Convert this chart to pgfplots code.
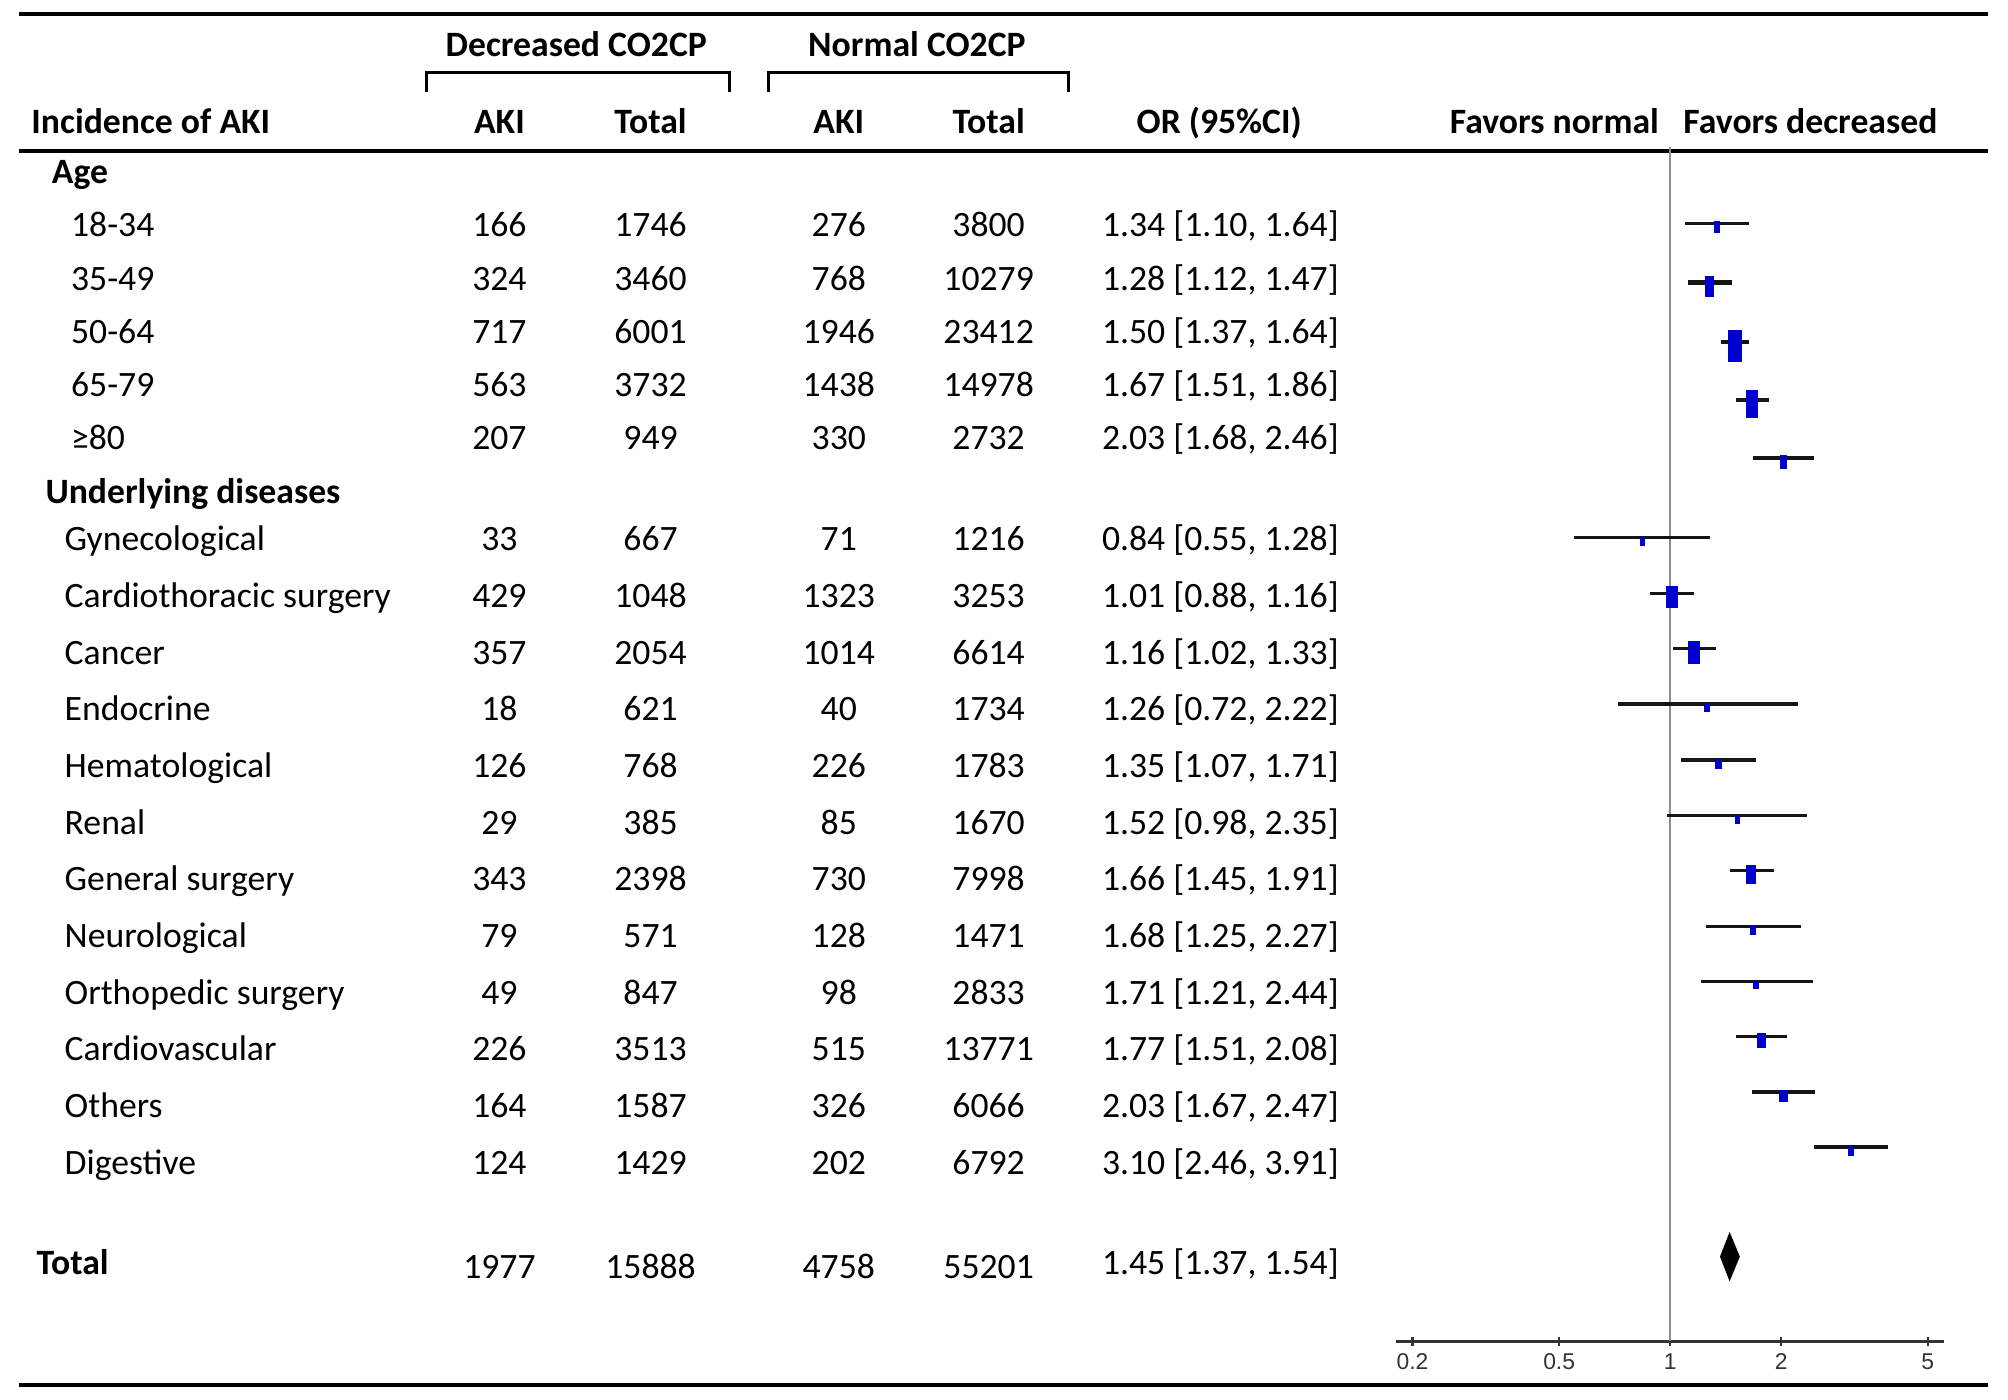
\documentclass[border=0pt]{standalone}
\usepackage{pgfplots}
\pgfplotsset{compat=1.18}
\usepackage{pgfplotstable}
\usepackage{fontspec}
\setmainfont{Carlito}
\newfontfamily\tickfont{Liberation Sans}
\definecolor{fblue}{RGB}{0,0,205}
\definecolor{ciline}{RGB}{20,20,20}

\pgfdeclareplotmark{fbox}{%
  \pgfpathrectangle{\pgfpoint{-0.575*\mw}{-0.575*\mh-1.1}}{\pgfpoint{1.15*\mw}{1.15*\mh}}%
  \pgfusepathqfill}

% forest data: y position (canvas), odds ratio, marker width/height (pt)
\pgfplotstableread{
y      or    w     h
-174.4 1.34  1.34  2.85
-220.7 1.28  2.28  5.03
-267.1 1.50  3.50  7.77
-312.4 1.67  3.04  7.03
-357.9 2.03  1.51  3.33
-419.9 0.84  1.34  2.19
-463.3 1.01  3.04  5.60
-506.5 1.16  2.93  5.69
-549.7 1.26  1.42  2.08
-593.5 1.35  1.79  2.65
-637.0 1.52  1.22  1.99
-679.9 1.66  2.56  4.55
-723.3 1.68  1.42  2.28
-766.3 1.71  1.51  2.08
-809.5 1.77  2.36  3.78
-852.7 2.03  2.08  3.04
-895.7 3.10  1.51  2.48
}\fdata

\begin{document}
\begin{tikzpicture}[font=\fontsize{10.15}{12}\selectfont]
\begin{scope}[x=0.12806mm, y=-0.12806mm]
\useasboundingbox (0,0) rectangle (1568,1093);
% rules
\draw[line width=1.1pt] (15,11) -- (1552,11);
\draw[line width=1.1pt] (15,118) -- (1552,118);
\draw[line width=1.1pt] (15,1081.5) -- (1552,1081.5);
% brackets
\draw[line width=0.85pt] (333,71.5) -- (333,56.5) -- (569.5,56.5) -- (569.5,71.5);
\draw[line width=0.85pt] (600,71.5) -- (600,56.5) -- (834,56.5) -- (834,71.5);
% header
\node[anchor=base, inner sep=0] at (450,44.5) {\bfseries Decreased CO2CP};
\node[anchor=base, inner sep=0] at (716,44.5) {\bfseries Normal CO2CP};
\node[anchor=base west, inner sep=0] at (24,104.5) {\bfseries Incidence of AKI};
\node[anchor=base, inner sep=0] at (390,104.5) {\bfseries AKI};
\node[anchor=base, inner sep=0] at (508,104.5) {\bfseries Total};
\node[anchor=base, inner sep=0] at (655,104.5) {\bfseries AKI};
\node[anchor=base, inner sep=0] at (772,104.5) {\bfseries Total};
\node[anchor=base, inner sep=0] at (952,104.5) {\bfseries OR (95\%CI)};
\node[anchor=base east, inner sep=0] at (1296,104.5) {\bfseries Favors normal};
\node[anchor=base west, inner sep=0] at (1314,104.5) {\bfseries Favors decreased};
% groups
\node[anchor=base west, inner sep=0] at (40,143.5) {\bfseries Age};
\node[anchor=base west, inner sep=0] at (35,393.5) {\bfseries Underlying diseases};
\foreach \lab/\a/\b/\c/\d/\orv [count=\i from 0] in {
  18-34/166/1746/276/3800/{1.34 [1.10, 1.64]},
  35-49/324/3460/768/10279/{1.28 [1.12, 1.47]},
  50-64/717/6001/1946/23412/{1.50 [1.37, 1.64]},
  65-79/563/3732/1438/14978/{1.67 [1.51, 1.86]},
  ≥80/207/949/330/2732/{2.03 [1.68, 2.46]}}{
  \pgfmathsetmacro\yy{176.5+41.5*\i+8.5}
  \node[anchor=base west, inner sep=0] at (55,\yy) {\lab};
  \node[anchor=base, inner sep=0] at (390,\yy) {\a};
  \node[anchor=base, inner sep=0] at (508,\yy) {\b};
  \node[anchor=base, inner sep=0] at (655,\yy) {\c};
  \node[anchor=base, inner sep=0] at (772,\yy) {\d};
  \node[anchor=base west, inner sep=0] at (860,\yy) {\orv};
}
\foreach \lab/\a/\b/\c/\d/\orv [count=\i from 0] in {
  Gynecological/33/667/71/1216/{0.84 [0.55, 1.28]},
  Cardiothoracic surgery/429/1048/1323/3253/{1.01 [0.88, 1.16]},
  Cancer/357/2054/1014/6614/{1.16 [1.02, 1.33]},
  Endocrine/18/621/40/1734/{1.26 [0.72, 2.22]},
  Hematological/126/768/226/1783/{1.35 [1.07, 1.71]},
  Renal/29/385/85/1670/{1.52 [0.98, 2.35]},
  General surgery/343/2398/730/7998/{1.66 [1.45, 1.91]},
  Neurological/79/571/128/1471/{1.68 [1.25, 2.27]},
  Orthopedic surgery/49/847/98/2833/{1.71 [1.21, 2.44]},
  Cardiovascular/226/3513/515/13771/{1.77 [1.51, 2.08]},
  Others/164/1587/326/6066/{2.03 [1.67, 2.47]},
  Digestive/124/1429/202/6792/{3.10 [2.46, 3.91]}}{
  \pgfmathsetmacro\yy{421.5+44.27*\i+8.5}
  \node[anchor=base west, inner sep=0] at (50,\yy) {\lab};
  \node[anchor=base, inner sep=0] at (390,\yy) {\a};
  \node[anchor=base, inner sep=0] at (508,\yy) {\b};
  \node[anchor=base, inner sep=0] at (655,\yy) {\c};
  \node[anchor=base, inner sep=0] at (772,\yy) {\d};
  \node[anchor=base west, inner sep=0] at (860,\yy) {\orv};
}
% total
\node[anchor=base west, inner sep=0] at (28,995.5) {\bfseries Total};
\node[anchor=base, inner sep=0] at (390,998.5) {1977};
\node[anchor=base, inner sep=0] at (508,998.5) {15888};
\node[anchor=base, inner sep=0] at (655,998.5) {4758};
\node[anchor=base, inner sep=0] at (772,998.5) {55201};
\node[anchor=base west, inner sep=0] at (860,995.5) {1.45 [1.37, 1.54]};
\end{scope}

\begin{axis}[
  at={(139.585mm,-134.143mm)}, anchor=south west,
  scale only axis, width=54.86mm, height=119.42mm,
  xmode=log, xmin=0.1803, xmax=5.546,
  ymin=-1047.5, ymax=-115,
  axis x line*=bottom, axis y line=none,
  xtick={0.2,0.5,1,2,5}, xticklabels={0.2,0.5,1,2,5},
  xminorticks=false, minor xtick={},
  xtick align=center, major tick length=2.8pt,
  x axis line style={line width=0.65pt, color=black!80},
  every tick/.style={line width=0.65pt, black!80},
  xticklabel style={font=\fontsize{6.5}{7}\tickfont, text=black!80, inner sep=0pt, anchor=center, yshift=-4.3pt},
  clip=false,
]
\addplot[color=black!45, line width=0.55pt] coordinates {(1,-115) (1,-1047.5)};
% confidence intervals
\addplot[ciline, line width=0.95pt] coordinates {(1.10,-174.4) (1.64,-174.4)};
\addplot[ciline, line width=1.45pt] coordinates {(1.12,-220.7) (1.47,-220.7)};
\addplot[ciline, line width=0.95pt] coordinates {(1.37,-267.1) (1.64,-267.1)};
\addplot[ciline, line width=0.95pt] coordinates {(1.51,-312.4) (1.86,-312.4)};
\addplot[ciline, line width=1.1pt] coordinates {(1.68,-357.9) (2.46,-357.9)};
\addplot[ciline, line width=0.95pt] coordinates {(0.55,-419.9) (1.28,-419.9)};
\addplot[ciline, line width=0.95pt] coordinates {(0.88,-463.3) (1.16,-463.3)};
\addplot[ciline, line width=0.95pt] coordinates {(1.02,-506.5) (1.33,-506.5)};
\addplot[ciline, line width=0.95pt] coordinates {(0.72,-549.7) (2.22,-549.7)};
\addplot[ciline, line width=0.95pt] coordinates {(1.07,-593.5) (1.71,-593.5)};
\addplot[ciline, line width=0.95pt] coordinates {(0.98,-637.0) (2.35,-637.0)};
\addplot[ciline, line width=0.95pt] coordinates {(1.45,-679.9) (1.91,-679.9)};
\addplot[ciline, line width=0.95pt] coordinates {(1.25,-723.3) (2.27,-723.3)};
\addplot[ciline, line width=0.95pt] coordinates {(1.21,-766.3) (2.44,-766.3)};
\addplot[ciline, line width=0.95pt] coordinates {(1.51,-809.5) (2.08,-809.5)};
\addplot[ciline, line width=0.95pt] coordinates {(1.67,-852.7) (2.47,-852.7)};
\addplot[ciline, line width=0.95pt] coordinates {(2.46,-895.7) (3.91,-895.7)};
% point estimates
\addplot[scatter, only marks, mark=fbox,
  scatter/use mapped color={fill=fblue, draw=none},
  visualization depends on={\thisrow{w} \as \mw},
  visualization depends on={\thisrow{h} \as \mh}]
  table[x=or, y=y] {\fdata};
% overall diamond
\addplot[fill=black, draw=black, line width=0.3pt] coordinates {(1.37,-981.3) (1.45,-963.1) (1.54,-981.3) (1.45,-999.5)} -- cycle;
\end{axis}
\end{tikzpicture}
\end{document}
